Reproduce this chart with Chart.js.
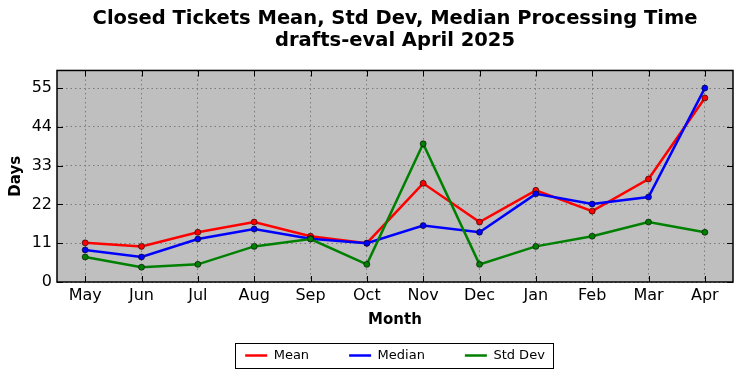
<!DOCTYPE html>
<html>
<head>
<meta charset="utf-8">
<script src="https://cdn.jsdelivr.net/npm/chart.js@4"></script>
<style>
  html, body { margin: 0; padding: 0; background: #ffffff; }
  #wrap { width: 742px; height: 378px; }
</style>
</head>
<body>
<div id="wrap"><canvas id="c" width="742" height="378"></canvas></div>
<script>
const categories = ['May', 'Jun', 'Jul', 'Aug', 'Sep', 'Oct', 'Nov', 'Dec', 'Jan', 'Feb', 'Mar', 'Apr'];
const meanValues = [11.1, 10.1, 14.1, 17.0, 13.0, 11.0, 28.0, 17.0, 26.0, 20.1, 29.2, 52.2];
const medianValues = [9.1, 7.1, 12.2, 15.0, 12.3, 11.0, 16.0, 14.1, 25.0, 22.1, 24.1, 55.0];
const stdDevValues = [7.1, 4.2, 5.0, 10.1, 12.2, 5.0, 39.2, 5.0, 10.1, 13.0, 17.0, 14.1];
const yTickValues = [0, 11, 22, 33, 44, 55];
const seriesNames = ['Mean', 'Median', 'Std Dev'];
const titleLines = ['Closed Tickets Mean, Std Dev, Median Processing Time', 'drafts-eval April 2025'];

const FONT = "'DejaVu Sans', 'Liberation Sans', sans-serif";

const framePlugin = {
  id: 'framePlugin',
  afterLayout(chart) {
    const a = chart.chartArea;
    if (chart.titleBlock) {
      chart.titleBlock.left = a.left;
      chart.titleBlock.right = a.right;
    }
    const lg = chart.legend;
    if (lg) {
      const boxTop = lg.top;
      const boxH = lg.height;
      lg._boxTop = boxTop;
      lg._boxH = boxH;
      const p = lg.options.labels.padding;
      const fs = lg.options.labels.font.size;
      const center = boxTop + boxH / 2;
      lg.left = a.left;
      lg.right = a.right;
      lg.top = center - p - fs / 2;
      lg.bottom = boxTop + boxH;
    }
  },
  beforeDraw(chart) {
    const ctx = chart.ctx;
    const a = chart.chartArea;
    ctx.save();
    ctx.fillStyle = '#ffffff';
    ctx.fillRect(0, 0, chart.width, chart.height);
    ctx.fillStyle = '#bfbfbf';
    ctx.fillRect(a.left, a.top, a.right - a.left, a.bottom - a.top);
    ctx.restore();
  },
  afterDraw(chart) {
    const ctx = chart.ctx;
    const a = chart.chartArea;
    ctx.save();
    ctx.strokeStyle = '#000000';
    ctx.lineWidth = 1;
    const tl = 6;
    const ys = chart.scales.y;
    ys.ticks.forEach(t => {
      const y = Math.round(ys.getPixelForValue(t.value)) + 0.5;
      ctx.beginPath();
      ctx.moveTo(a.left, y); ctx.lineTo(a.left + tl, y);
      ctx.moveTo(a.right, y); ctx.lineTo(a.right - tl, y);
      ctx.stroke();
    });
    const xs = chart.scales.x;
    xs.ticks.forEach((t, i) => {
      const x = Math.round(xs.getPixelForTick(i)) + 0.5;
      ctx.beginPath();
      ctx.moveTo(x, a.bottom); ctx.lineTo(x, a.bottom - tl);
      ctx.moveTo(x, a.top); ctx.lineTo(x, a.top + tl);
      ctx.stroke();
    });
    ctx.lineWidth = 1.5;
    ctx.strokeRect(a.left, a.top, a.right - a.left, a.bottom - a.top);
    const lg = chart.legend;
    if (lg && lg.legendHitBoxes && lg.legendHitBoxes.length) {
      const hb = lg.legendHitBoxes;
      const l = hb[0].left;
      const r = hb[hb.length - 1].left + hb[hb.length - 1].width;
      const bl = l - 10;
      const br = r + 8;
      ctx.lineWidth = 1;
      ctx.strokeRect(Math.round(bl) + 0.5, Math.round(lg._boxTop) + 0.5, Math.round(br - bl), Math.round(lg._boxH));
    }
    ctx.restore();
  }
};

const lineStyle = (color, order) => ({
  borderColor: color,
  backgroundColor: color,
  borderWidth: 2.5,
  pointRadius: 3,
  pointHoverRadius: 3,
  pointBackgroundColor: color,
  pointBorderColor: 'rgba(0,0,0,0.75)',
  pointBorderWidth: 0.8,
  tension: 0,
  fill: false,
  order: order
});

new Chart(document.getElementById('c'), {
  type: 'line',
  data: {
    labels: categories,
    datasets: [
      Object.assign({ label: seriesNames[0], data: meanValues }, lineStyle('#ff0000', 2)),
      Object.assign({ label: seriesNames[1], data: medianValues }, lineStyle('#0000ff', 1)),
      Object.assign({ label: seriesNames[2], data: stdDevValues }, lineStyle('#008000', 0))
    ]
  },
  options: {
    responsive: false,
    animation: false,
    devicePixelRatio: 1,
    layout: { padding: { left: 0, right: 9, top: 0, bottom: 10 } },
    plugins: {
      tooltip: { enabled: false },
      title: {
        display: true,
        text: titleLines,
        color: '#000000',
        font: { family: FONT, size: 19.5, weight: 'bold', lineHeight: 1.14 },
        padding: { top: 8, bottom: 18 }
      },
      legend: {
        display: true,
        position: 'bottom',
        maxHeight: 25,
        labels: {
          usePointStyle: true,
          pointStyle: 'line',
          pointStyleWidth: 22,
          padding: 40,
          color: '#000000',
          font: { family: FONT, size: 13 },
          sort: (a, b) => a.datasetIndex - b.datasetIndex,
          generateLabels(chart) {
            const items = Chart.defaults.plugins.legend.labels.generateLabels(chart);
            return items.map(it => {
              const ds = chart.data.datasets[it.datasetIndex];
              it.strokeStyle = ds.borderColor;
              it.fillStyle = ds.borderColor;
              it.lineWidth = ds.borderWidth;
              it.pointStyle = 'line';
              return it;
            });
          }
        }
      }
    },
    scales: {
      x: {
        type: 'category',
        offset: true,
        afterFit(scale) { scale.height = 61; },
        grid: { display: true, color: '#7a7a7a', lineWidth: 1, drawTicks: false, offset: false },
        border: { display: false, dash: [1.5, 3] },
        ticks: { color: '#000000', font: { family: FONT, size: 16 }, padding: 4, maxRotation: 0, autoSkip: false },
        title: {
          display: true,
          text: 'Month',
          color: '#000000',
          font: { family: FONT, size: 15, weight: 'bold' },
          padding: { top: 0, bottom: 14 }
        }
      },
      y: {
        min: 0,
        max: 60,
        afterFit(scale) { scale.width = 57; },
        afterBuildTicks(scale) { scale.ticks = yTickValues.map(v => ({ value: v })); },
        grid: { display: true, color: '#7a7a7a', lineWidth: 1, drawTicks: false },
        border: { display: false, dash: [1.5, 3] },
        ticks: { color: '#000000', font: { family: FONT, size: 16 }, padding: 5 },
        title: {
          display: true,
          text: 'Days',
          color: '#000000',
          font: { family: FONT, size: 15, weight: 'bold' },
          padding: { top: 7, bottom: 0 }
        }
      }
    }
  },
  plugins: [framePlugin]
});
</script>
</body>
</html>
